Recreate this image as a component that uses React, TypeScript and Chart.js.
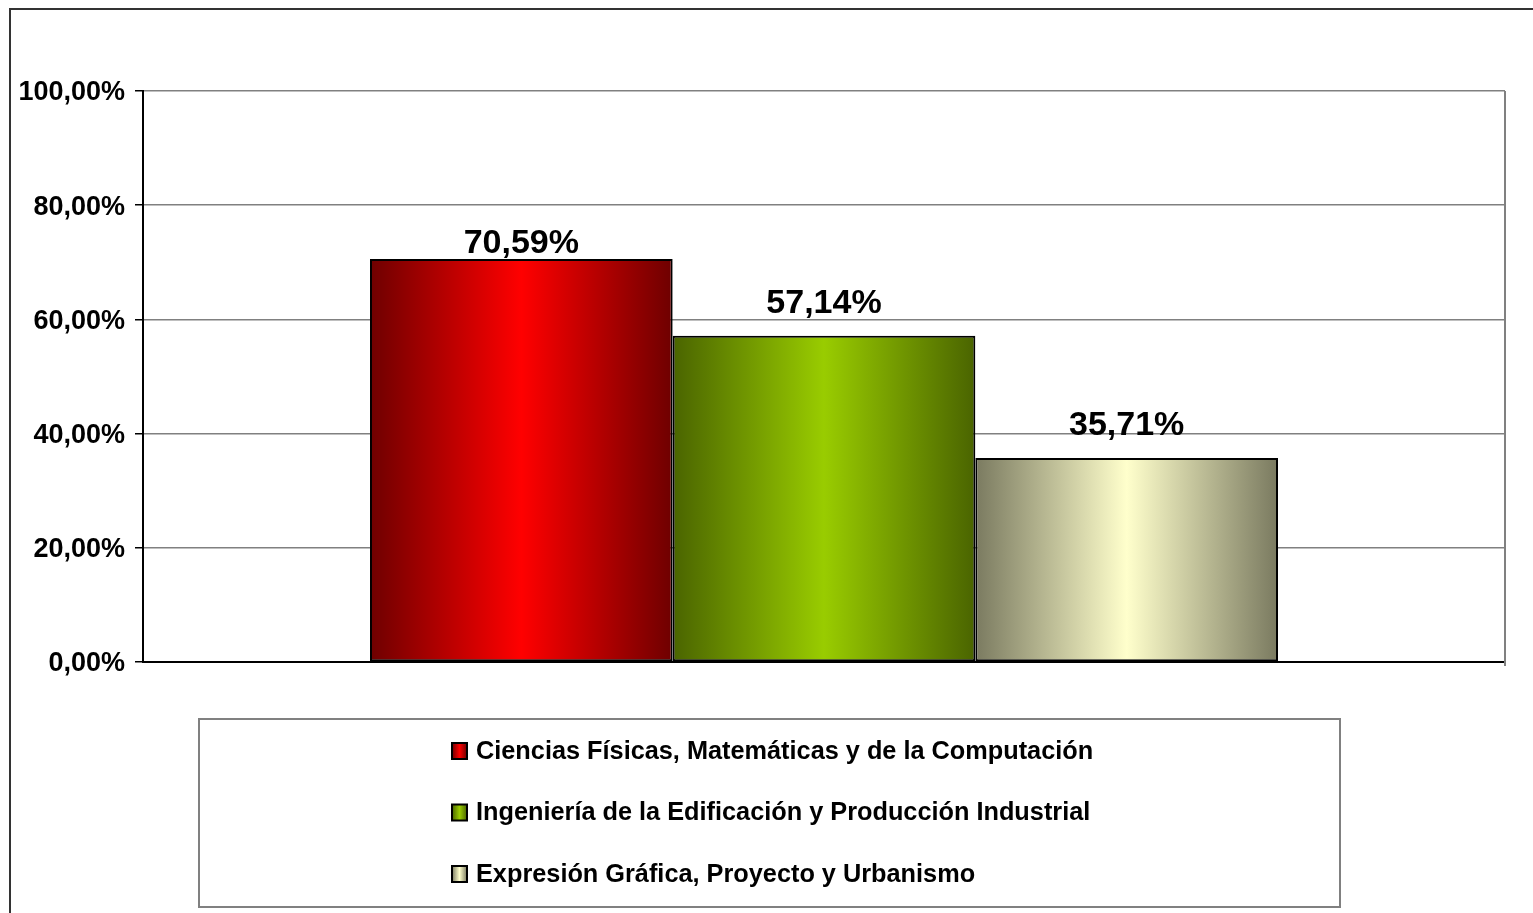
import React, { useEffect, useRef } from "react";
import { Chart, registerables } from "chart.js";

Chart.register(...registerables);

const categories = [""];
const seriesNames = [
  "Ciencias Físicas, Matemáticas y de la Computación",
  "Ingeniería de la Edificación y Producción Industrial",
  "Expresión Gráfica, Proyecto y Urbanismo",
];
const seriesValues = [70.59, 57.14, 35.71];
// [edge colour, centre colour] of each bar's horizontal gradient
const seriesEdge = ["#6e0000", "#4a6400", "#7a7a60"];
const seriesCenter = ["#ff0000", "#99cc00", "#ffffcc"];
const yTicks = [0, 20, 40, 60, 80, 100];

const FONT = '"Liberation Sans", Arial, sans-serif';
const LABEL_GAP = [6, 23, 23];

const fmt = (v: number) => v.toFixed(2).replace(".", ",") + "%";

function makeGrad(ctx: CanvasRenderingContext2D, x0: number, x1: number, i: number) {
  const g = ctx.createLinearGradient(x0, 0, x1, 0);
  g.addColorStop(0, seriesEdge[i]);
  g.addColorStop(0.5, seriesCenter[i]);
  g.addColorStop(1, seriesEdge[i]);
  return g;
}

const decorPlugin = {
  id: "decor",
  beforeDraw(chart: any) {
    const ctx = chart.ctx as CanvasRenderingContext2D;
    ctx.save();
    ctx.fillStyle = "#ffffff";
    ctx.fillRect(0, 0, chart.width, chart.height);
    ctx.strokeStyle = "#333333";
    ctx.lineWidth = 2;
    ctx.beginPath();
    ctx.moveTo(10, chart.height + 5);
    ctx.lineTo(10, 9);
    ctx.lineTo(chart.width + 5, 9);
    ctx.stroke();
    ctx.restore();
  },
  beforeDatasetsDraw(chart: any) {
    const ctx = chart.ctx as CanvasRenderingContext2D;
    chart.data.datasets.forEach((_: any, di: number) => {
      const meta = chart.getDatasetMeta(di);
      meta.data.forEach((el: any) => {
        const x0 = el.x - el.width / 2;
        const x1 = el.x + el.width / 2;
        el.options = Object.assign({}, el.options, { backgroundColor: makeGrad(ctx, x0, x1, di) });
      });
    });
  },
  afterDatasetsDraw(chart: any) {
    const ctx = chart.ctx as CanvasRenderingContext2D;
    const { chartArea } = chart;
    ctx.save();
    ctx.strokeStyle = "#808080";
    ctx.lineWidth = 2;
    ctx.beginPath();
    ctx.moveTo(chartArea.right, chartArea.top);
    ctx.lineTo(chartArea.right, chartArea.bottom + 4);
    ctx.stroke();
    ctx.fillStyle = "#000";
    ctx.font = `bold 34px ${FONT}`;
    ctx.textAlign = "center";
    ctx.textBaseline = "alphabetic";
    chart.data.datasets.forEach((ds: any, di: number) => {
      const meta = chart.getDatasetMeta(di);
      meta.data.forEach((el: any, i: number) => {
        ctx.fillText(fmt(ds.data[i]), el.x, el.y - LABEL_GAP[di]);
      });
    });
    ctx.restore();
  },
  afterDraw(chart: any) {
    const ctx = chart.ctx as CanvasRenderingContext2D;
    ctx.save();
    ctx.strokeStyle = "#808080";
    ctx.lineWidth = 2;
    ctx.strokeRect(199, 719, 1141, 188);
    ctx.font = `bold 25.3px ${FONT}`;
    ctx.textAlign = "left";
    ctx.textBaseline = "middle";
    seriesNames.forEach((name, i) => {
      const cy = 751 + i * 61.5;
      const sx = 452;
      const sy = cy - 8;
      ctx.fillStyle = makeGrad(ctx, sx, sx + 15, i);
      ctx.fillRect(sx, sy, 15, 16);
      ctx.strokeStyle = "#000";
      ctx.lineWidth = 2;
      ctx.strokeRect(sx, sy, 15, 16);
      ctx.fillStyle = "#000";
      ctx.fillText(name, 476, cy + 1);
    });
    ctx.restore();
  },
};

export default function App() {
  const ref = useRef<HTMLCanvasElement>(null);
  useEffect(() => {
    if (!ref.current) return;
    const chart = new Chart(ref.current, {
      type: "bar",
      data: {
        labels: categories,
        datasets: seriesNames.map((name, i) => ({
          label: name,
          data: [seriesValues[i]],
          backgroundColor: seriesCenter[i],
          borderColor: "#000000",
          borderWidth: 2,
          borderSkipped: false,
          categoryPercentage: 0.6667,
          barPercentage: 1.0,
        })),
      },
      options: {
        animation: false,
        responsive: false,
        devicePixelRatio: 1,
        layout: { padding: { left: 0, right: 28, top: 91, bottom: 251 } },
        plugins: { legend: { display: false }, tooltip: { enabled: false } },
        scales: {
          x: {
            ticks: { display: false },
            grid: { display: false, drawTicks: false },
            border: { display: true, color: "#000000", width: 2 },
            afterFit: (s: any) => {
              s.height = 0;
            },
          },
          y: {
            min: 0,
            max: 100,
            afterBuildTicks: (s: any) => {
              s.ticks = yTicks.map((v) => ({ value: v }));
            },
            ticks: {
              callback: (v: any) => fmt(Number(v)),
              color: "#000000",
              font: { family: FONT, size: 27, weight: "bold" },
              padding: 10,
              labelOffset: 2,
            },
            grid: { color: "#808080", lineWidth: 1.5, tickLength: 8, tickColor: "#000000", tickWidth: 1.5 },
            border: { display: true, color: "#000000", width: 2 },
            afterFit: (s: any) => {
              s.width = 143;
            },
          },
        },
      },
      plugins: [decorPlugin],
    });
    return () => chart.destroy();
  }, []);
  return (
    <div style={{ position: "fixed", left: 0, top: 0, width: 1533, height: 913, background: "#fff" }}>
      <canvas ref={ref} width={1533} height={913} style={{ display: "block" }} />
    </div>
  );
}
